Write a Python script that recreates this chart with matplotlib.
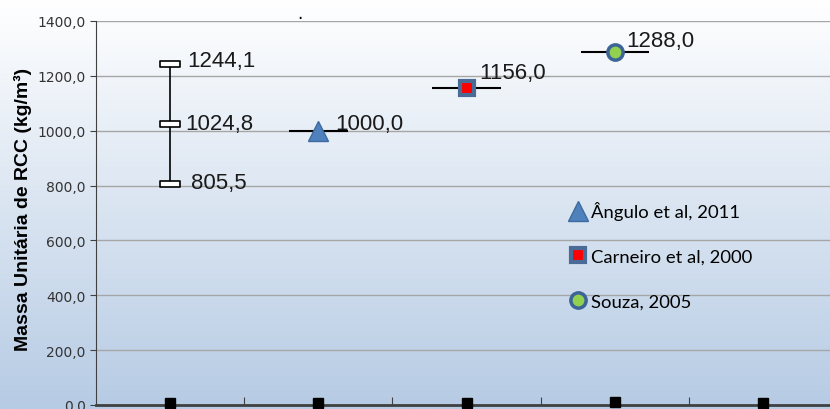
import matplotlib.pyplot as plt
import numpy as np
from matplotlib.lines import Line2D
from matplotlib.path import Path

# Dados (posições de categoria 0..4)
faixa_x = 0
faixa_valores = [805.5, 1024.8, 1244.1]
angulo_x, angulo = 1, 1000.0
carneiro_x, carneiro = 2, 1156.0
souza_x, souza = 3, 1288.0
base_x = [0, 1, 2, 3, 4]
base_valores = [7, 9, 7, 12, 9]
yticks = [0, 200, 400, 600, 800, 1000, 1200, 1400]


def fmt(v):
    return f"{v:.1f}".replace('.', ',')


fig = plt.figure(figsize=(8.3, 4.1), dpi=100)

# fundo em degradê (branco -> azul claro)
bg = fig.add_axes([0, 0, 1, 1], zorder=0)
topo = np.array([255, 255, 255]) / 255
fundo = np.array([182, 203, 228]) / 255
t = np.linspace(0, 1, 256)[:, None]
grad = topo + (fundo - topo) * t
bg.imshow(grad[:, None, :].repeat(2, axis=1), aspect='auto', extent=[0, 1, 0, 1])
bg.axis('off')

ax = fig.add_axes([96 / 830, 4 / 410, 741 / 830, 384 / 410], zorder=1)
ax.set_facecolor('none')
ax.set_xlim(-0.5, 4.5)
ax.set_ylim(0, 1400)

ax.set_yticks(yticks)
ax.set_yticklabels([fmt(v) for v in yticks], fontsize=10, color='#333333')
ax.yaxis.grid(True, color='#a6a6a6', lw=1)
ax.set_axisbelow(True)
ax.tick_params(axis='y', direction='out', length=4, color='#404040')
ax.set_xticks([0.5, 1.5, 2.5, 3.5])
ax.set_xticklabels([])
ax.tick_params(axis='x', direction='in', length=6, color='#404040')
for s in ['top', 'right']:
    ax.spines[s].set_visible(False)
ax.spines['left'].set_color('#404040')
ax.spines['bottom'].set_color('#404040')
ax.spines['bottom'].set_linewidth(2)

# faixa de valores (primeira categoria)
ret = Path([(-1, -0.3), (1, -0.3), (1, 0.3), (-1, 0.3), (-1, -0.3)],
           [Path.MOVETO, Path.LINETO, Path.LINETO, Path.LINETO, Path.CLOSEPOLY])
ax.plot([faixa_x, faixa_x], [min(faixa_valores), max(faixa_valores)], color='black', lw=1.2, zorder=3)
ax.plot([faixa_x] * 3, faixa_valores, ls='none', marker=ret, ms=14, mfc='white', mec='black', mew=1.2, zorder=4)
offs = [(21 / 1.389, 1), (15 / 1.389, 0), (17 / 1.389, 2)]
for v, o in zip(faixa_valores, offs):
    ax.annotate(fmt(v), (faixa_x, v), xytext=o, textcoords='offset points', va='center',
                fontsize=16, family='Liberation Sans', color='#1a1a1a')

cor_borda = '#3c6496'
ax.errorbar(angulo_x, angulo, xerr=0.2, fmt='^', ms=14, mfc='#4f81bd', mec='#3d6aa0', mew=1,
            ecolor='black', elinewidth=1.5, capsize=0, zorder=4)
ax.errorbar(carneiro_x, carneiro, xerr=0.23, fmt='s', ms=10, mfc='#ff0000', mec='#4a6b96', mew=3,
            ecolor='black', elinewidth=1.5, capsize=0, zorder=4)
ax.errorbar(souza_x, souza, xerr=0.23, fmt='o', ms=11, mfc='#92d050', mec=cor_borda, mew=2.5,
            ecolor='black', elinewidth=1.5, capsize=0, zorder=4)

for x, v, o in [(angulo_x, angulo, (17 / 1.389, 7 / 1.389)),
                (carneiro_x, carneiro, (13 / 1.389, 15 / 1.389)),
                (souza_x, souza, (12 / 1.389, 11 / 1.389))]:
    ax.annotate(fmt(v), (x, v), xytext=o, textcoords='offset points', va='center',
                fontsize=16, family='Liberation Sans', color='#1a1a1a')

# marcadores na base
ax.plot(base_x, base_valores, ls='none', marker='s', ms=7.5, color='black', clip_on=False, zorder=5)

handles = [
    Line2D([], [], ls='none', marker='^', ms=14, mfc='#4f81bd', mec='#3d6aa0', mew=1),
    Line2D([], [], ls='none', marker='s', ms=10, mfc='#ff0000', mec='#4a6b96', mew=3),
    Line2D([], [], ls='none', marker='o', ms=11, mfc='#92d050', mec=cor_borda, mew=2.5),
]
ax.legend(handles, ['Ângulo et al, 2011', 'Carneiro et al, 2000', 'Souza, 2005'],
          loc='upper left', bbox_to_anchor=(0.625, 0.555), frameon=False, borderpad=0,
          handlelength=1.0, handletextpad=0.25, labelspacing=1.55,
          prop={'family': 'Lato', 'size': 13.3})

fig.text(23 / 830, 1 - 209 / 410, 'Massa Unitária de RCC (kg/m³)', rotation=90,
         ha='center', va='center', fontsize=14, fontweight='bold', family='Liberation Sans')
fig.text(300 / 830, 1 - 14 / 410, '.', fontsize=12, ha='center', va='center')

fig.savefig('out.png', dpi=100)
